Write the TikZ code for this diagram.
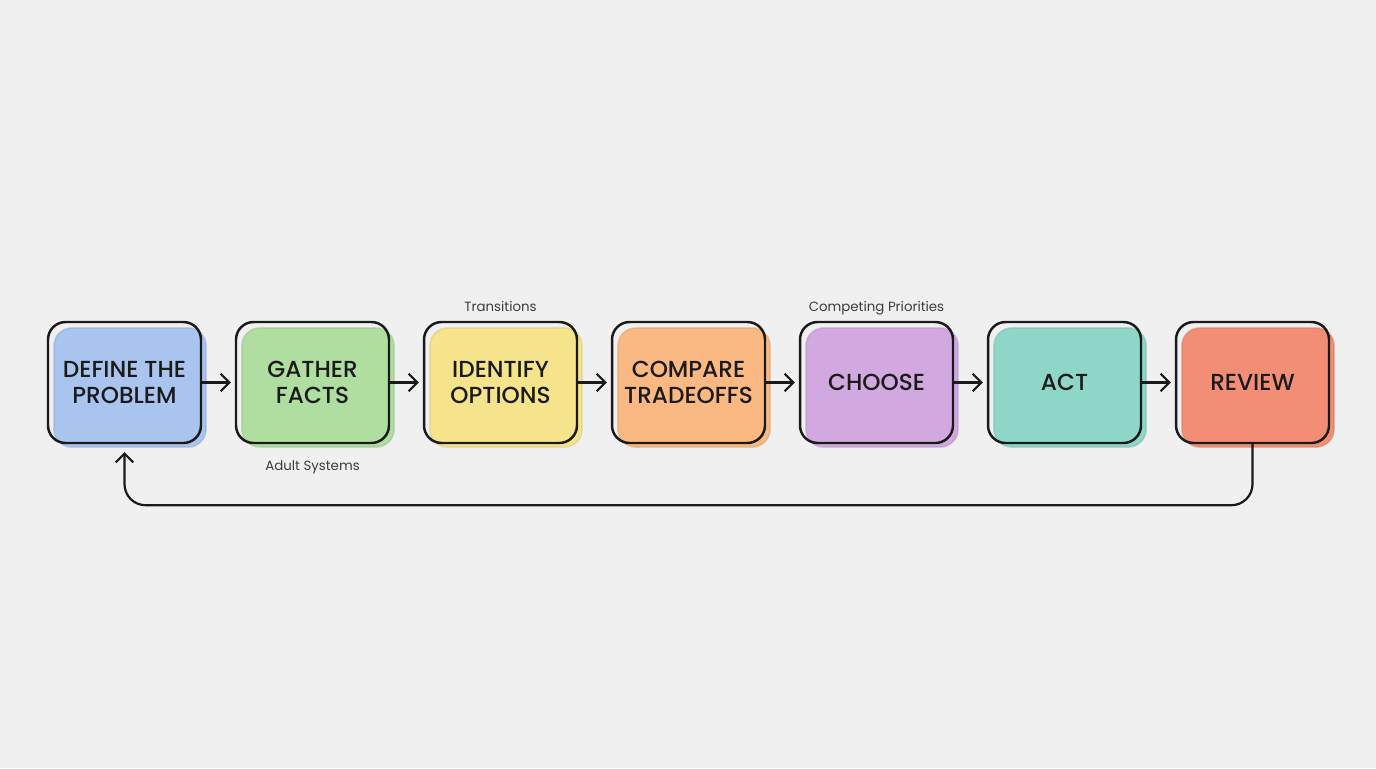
\documentclass[tikz,border=0pt]{standalone}
\usepackage{fontspec}
\setmainfont{Poppins}
\newfontfamily\bxfont{Poppins Medium}
\usetikzlibrary{calc, arrows.meta}

\definecolor{bgc}{HTML}{F0F0F0}
\definecolor{ink}{HTML}{1A1A1A}
\definecolor{cblue}{HTML}{A9C4EE}
\definecolor{cgreen}{HTML}{B0DEA0}
\definecolor{cyellow}{HTML}{F6E48C}
\definecolor{corange}{HTML}{FAB882}
\definecolor{cpurple}{HTML}{D2A8E0}
\definecolor{cteal}{HTML}{8ED6C8}
\definecolor{cred}{HTML}{F28E76}

\begin{document}
\begin{tikzpicture}[x=0.02cm, y=-0.02cm,
        bx/.style={rectangle, rounded corners=10, draw=ink, line width=1.4pt,
                   minimum width=3.06cm, minimum height=2.42cm, inner sep=0pt,
                   align=center, font=\bxfont\fontsize{13.2}{15}\selectfont, text=ink},
        sh/.style={rectangle, rounded corners=10, draw=#1!88!black, draw opacity=.5,
                   line width=1pt, fill=#1,
                   minimum width=3.04cm, minimum height=2.38cm},
        lb/.style={font=\fontsize{7.6}{9}\selectfont, text=ink!85,
                   text height=1.6ex, text depth=.3ex},
        ar/.style={-{Straight Barb[length=5pt, width=10pt]}, line width=1.25pt, draw=ink}]
            \useasboundingbox (0,0) rectangle (1376,768);
            \fill[bgc] (0,0) rectangle (1376,768);

            % coloured backs, a little to the lower right
            \node[sh=cblue]   (def-s) at (130,387.5)  {};
            \node[sh=cgreen]  (gat-s) at (318,387.5)  {};
            \node[sh=cyellow] (ide-s) at (506,387.5)  {};
            \node[sh=corange] (cmp-s) at (694,387.5)  {};
            \node[sh=cpurple] (cho-s) at (882,387.5)  {};
            \node[sh=cteal]   (act-s) at (1070,387.5) {};
            \node[sh=cred]    (rev-s) at (1258,387.5) {};

            % outlined steps
            \node[bx] (def) at (124.5,382.5)  {DEFINE THE\\PROBLEM};
            \node[bx] (gat) at (312.5,382.5)  {GATHER\\FACTS};
            \node[bx] (ide) at (500.5,382.5)  {IDENTIFY\\OPTIONS};
            \node[bx] (cmp) at (688.5,382.5)  {COMPARE\\TRADEOFFS};
            \node[bx] (cho) at (876.5,382.5)  {CHOOSE};
            \node[bx] (act) at (1064.5,382.5) {ACT};
            \node[bx] (rev) at (1252.5,382.5) {REVIEW};

            \node[lb] (tr) at (500.5,305) {Transitions};
            \node[lb] (cp) at (876.5,305) {Competing Priorities};
            \node[lb] (ad) at (312.5,464) {Adult Systems};

            \begin{scope}[shorten >=2.2pt]
                \draw[ar] (def) -- (gat);
                \draw[ar] (gat) -- (ide);
                \draw[ar] (ide) -- (cmp);
                \draw[ar] (cmp) -- (cho);
                \draw[ar] (cho) -- (act);
                \draw[ar] (act) -- (rev);
            \end{scope}

            \coordinate (fb) at (124.5,452);
            \draw[ar, rounded corners=12] (rev.south) -- ++(0,61) -| (fb);
        \end{tikzpicture}
\end{document}
